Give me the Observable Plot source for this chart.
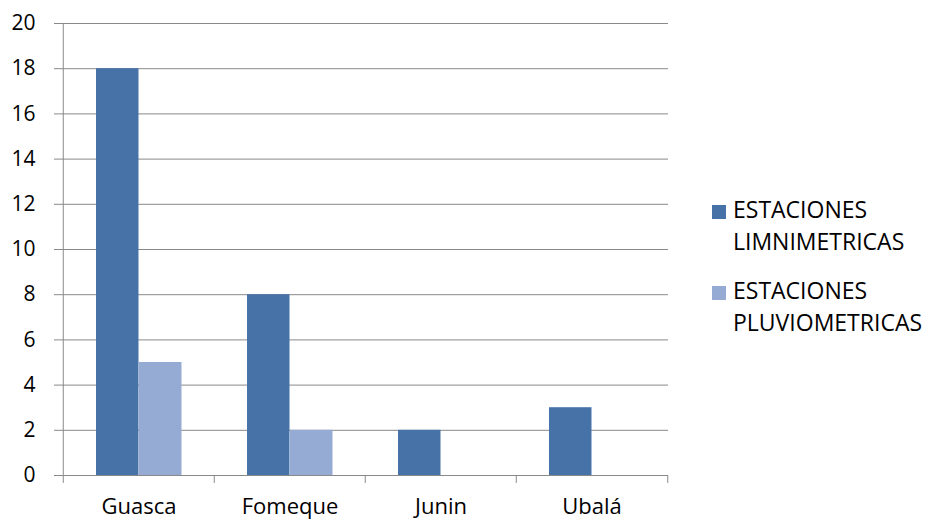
<!DOCTYPE html>
<html>
<head>
<meta charset="utf-8">
<script src="https://cdn.jsdelivr.net/npm/d3@7"></script>
<script src="https://cdn.jsdelivr.net/npm/@observablehq/plot@0.6"></script>
<style>
  body { margin: 0; background: white; }
  #wrap { position: relative; width: 927px; height: 522px; font-family: "Open Sans", sans-serif; }
  .legend { position: absolute; left: 712px; font-size: 23px; line-height: 32px; color: #000; }
  .legend .sw { position: absolute; left: 0; top: 12px; width: 14px; height: 14px; }
  .legend .tx { position: absolute; left: 21px; top: 0; white-space: nowrap; }
</style>
</head>
<body>
<div id="wrap"></div>
<script>
const categories = ["Guasca", "Fomeque", "Junin", "Ubalá"];
const limnimetricas = [18, 8, 2, 3];
const pluviometricas = [5, 2, 0, 0];
const seriesNames = [["ESTACIONES", "LIMNIMETRICAS"], ["ESTACIONES", "PLUVIOMETRICAS"]];
const seriesColors = ["#4672A8", "#95ABD3"];
const yTicks = [0, 2, 4, 6, 8, 10, 12, 14, 16, 18, 20];

const gray = "#898989";
const half = (927 - 62 - 259) / categories.length / 2;

const chart = Plot.plot({
  width: 927,
  height: 522,
  marginLeft: 62,
  marginRight: 259,
  marginTop: 23,
  marginBottom: 47,
  x: {domain: categories, padding: 0},
  y: {domain: [0, 20]},
  style: {fontFamily: "Open Sans", fontSize: "21px", color: "#000", background: "white"},
  marks: [
    Plot.gridY(yTicks, {stroke: gray, strokeOpacity: 1, strokeWidth: 1}),
    Plot.axisY(yTicks, {tickSize: 8, tickPadding: 19, stroke: gray, fill: "#000", fontSize: 21, label: null}),
    Plot.barY(categories, {x: d => d, y: (d, i) => limnimetricas[i], fill: seriesColors[0], insetLeft: 33, insetRight: 75.5}),
    Plot.barY(categories, {x: d => d, y: (d, i) => pluviometricas[i], fill: seriesColors[1], insetLeft: 76, insetRight: 32.5}),
    Plot.ruleX([categories[0]], {x: d => d, y1: 20, y2: 0, dx: -half, stroke: gray}),
    Plot.ruleY([0], {stroke: gray}),
    Plot.ruleX(categories, {x: d => d, y1: 0, y2: -0.35, dx: -half, stroke: gray}),
    Plot.ruleX([categories[categories.length - 1]], {x: d => d, y1: 0, y2: -0.35, dx: half, stroke: gray}),
    Plot.axisX({tickSize: 0, tickPadding: 23, fontSize: 22, fill: "#000", label: null})
  ]
});

const wrap = document.getElementById("wrap");
wrap.appendChild(chart);

const legendTops = [193, 274];
seriesNames.forEach((lines, i) => {
  const item = document.createElement("div");
  item.className = "legend";
  item.style.top = legendTops[i] + "px";
  const sw = document.createElement("div");
  sw.className = "sw";
  sw.style.background = seriesColors[i];
  item.appendChild(sw);
  const tx = document.createElement("div");
  tx.className = "tx";
  tx.innerHTML = lines.join("<br>");
  item.appendChild(tx);
  wrap.appendChild(item);
});
</script>
</body>
</html>
